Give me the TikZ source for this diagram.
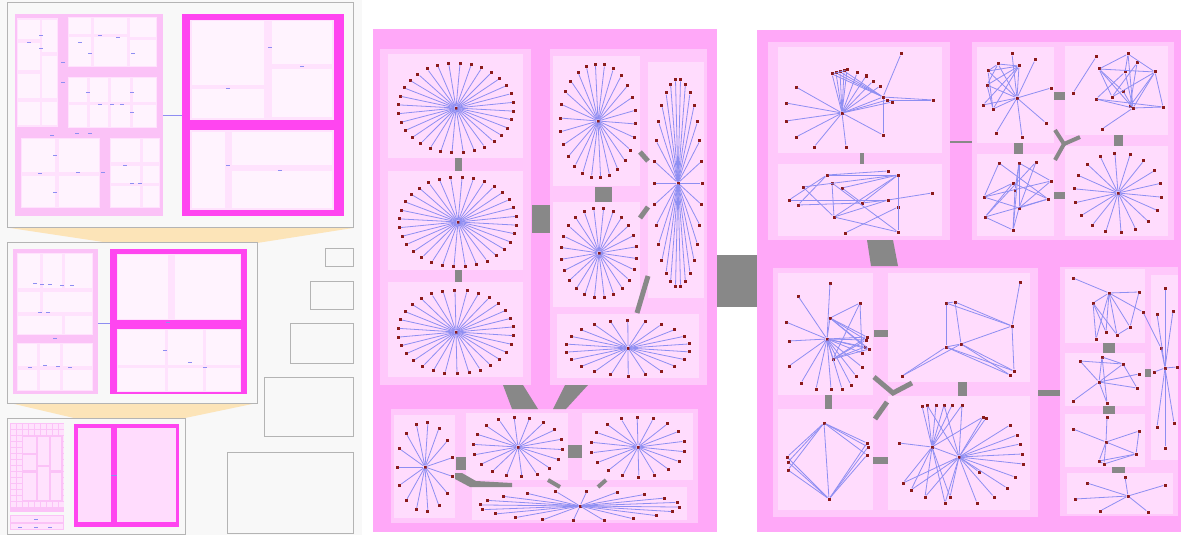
\documentclass[tikz,border=0pt]{standalone}
\usetikzlibrary{calc}

\definecolor{regionpink}{HTML}{FFA8F8}
\definecolor{grouppink}{HTML}{FFC8FB}
\definecolor{boxpink}{HTML}{FFDCFD}
\definecolor{magentabox}{HTML}{FF45F0}
\definecolor{panelpink}{HTML}{FBC2F7}
\definecolor{paneltint}{HTML}{FFE2FD}
\definecolor{cellpink}{HTML}{FFF3FE}
\definecolor{edgeblue}{HTML}{8E8EF2}
\definecolor{vertexred}{HTML}{8B1A1A}
\definecolor{linkgray}{HTML}{888888}
\definecolor{zoomyellow}{HTML}{FCE4B8}
\definecolor{panelgray}{HTML}{F8F8F8}
\definecolor{framegray}{HTML}{B4B4B4}

\begin{document}
\begin{tikzpicture}[
  x=1pt, y=-1pt,
  vtx/.style={rectangle, fill=vertexred, inner sep=0pt, minimum size=3pt},
  netedge/.style={edgeblue, line width=0.8pt},
  bundle/.style={fill=linkgray},
  bundleline/.style={linkgray, line width=5pt},
  regionfill/.style={fill=regionpink},
  groupfill/.style={fill=grouppink},
  leaffill/.style={fill=boxpink},
  magfill/.style={fill=magentabox},
  tintfill/.style={fill=paneltint},
  cellfill/.style={fill=cellpink},
  panelframe/.style={draw=framegray, fill=panelgray, line width=1pt}
]
\useasboundingbox (0,0) rectangle (1183,535);
\fill[white] (0,0) rectangle (1183,535);
\fill[panelgray] (0,0) rectangle (362,535);

% zoom views on the left
\fill[zoomyellow] (10,228) -- (353,228) -- (257,243) -- (110,243) -- cycle;
\fill[zoomyellow] (10,403) -- (257,403) -- (185,418) -- (74,418) -- cycle;
\draw[panelframe] (7,3) rectangle (353,227);
\draw[panelframe] (7,242) rectangle (257,403);
\draw[panelframe] (7,418) rectangle (185,534);
\foreach \xa/\ya/\xb/\yb in {325/248/353/266, 310/281/353/309, 290/323/353/363, 264/377/353/436, 227/452/353/533}
  \draw[panelframe] (\xa,\ya) rectangle (\xb,\yb);

% top view
\fill[panelpink] (15,14) rectangle (163,216);
\foreach \xa/\ya/\xb/\yb in {17/18/58/127, 68/17/157/67, 68/77/157/128, 21/138/100/208, 110/138/160/208}
  \fill[tintfill] (\xa,\ya) rectangle (\xb,\yb);
\foreach \xa/\ya/\xb/\yb in {18/20/40/39, 18/43/40/70, 18/74/40/98, 18/102/40/125, 42/20/57/52, 42/56/57/98, 42/102/57/125,
    69/18/91/34, 69/37/91/66, 94/18/127/34, 94/37/127/66, 130/18/156/37, 130/40/156/66,
    69/78/87/102, 90/78/108/102, 111/78/130/102, 133/78/156/102, 69/105/87/127, 90/105/108/127, 111/105/130/127, 133/105/156/127,
    22/139/55/172, 59/139/99/172, 22/176/55/207, 59/176/99/207,
    111/139/140/162, 143/139/159/162, 111/166/140/183, 143/166/159/183, 111/186/140/207, 143/186/159/207}
  \fill[cellfill] (\xa,\ya) rectangle (\xb,\yb);
\fill[magfill] (182,14) rectangle (344,216);
\fill[tintfill] (190,20) rectangle (334,120);
\fill[tintfill] (190,130) rectangle (334,210);
\foreach \xa/\ya/\xb/\yb in {192/21/264/85, 192/89/264/118, 272/21/332/64, 272/69/332/117, 192/132/225/208, 232/132/332/165, 232/171/332/208}
  \fill[cellfill] (\xa,\ya) rectangle (\xb,\yb);
\draw[netedge] (163,115) -- (182,115);

% middle view
\fill[panelpink] (13,249) rectangle (98,394);
\foreach \xa/\ya/\xb/\yb in {17/253/93/335, 17/343/93/391}
  \fill[tintfill] (\xa,\ya) rectangle (\xb,\yb);
\foreach \xa/\ya/\xb/\yb in {18/254/40/288, 43/254/62/288, 65/254/92/288, 18/292/40/312, 43/292/92/312, 18/316/62/334, 65/316/92/334,
    18/344/37/366, 40/344/60/366, 63/344/92/366, 18/370/37/390, 40/370/60/390, 63/370/92/390}
  \fill[cellfill] (\xa,\ya) rectangle (\xb,\yb);
\fill[magfill] (110,249) rectangle (247,394);
\fill[tintfill] (117,254) rectangle (241,320);
\fill[tintfill] (117,329) rectangle (241,392);
\foreach \xa/\ya/\xb/\yb in {118/255/168/319, 175/255/240/319, 118/330/165/365, 168/330/203/365, 206/330/240/365, 118/368/165/391, 168/368/203/391, 206/368/240/391}
  \fill[cellfill] (\xa,\ya) rectangle (\xb,\yb);
\draw[netedge] (98,323) -- (110,323);

% bottom view
\fill[panelpink] (10,423) rectangle (64,512);
\foreach \xa in {11,17,...,59}
  \foreach \ya in {424,430,...,506}
    \fill[tintfill] (\xa,\ya) rectangle ++(4.5,4.5);
\foreach \xa/\ya/\xb/\yb in {22/436/37/470, 38/436/50/500, 22/472/37/500, 51/436/62/470, 51/472/62/500}
  \fill[panelpink] (\xa-0.5,\ya-0.5) rectangle (\xb+0.5,\yb+0.5);
\foreach \xa/\ya/\xb/\yb in {23/437/36/453, 23/455/36/470, 38/437/49/465, 38/467/49/500, 23/473/36/500, 51/437/61/470, 51/473/61/500}
  \fill[tintfill] (\xa,\ya) rectangle (\xb,\yb);
\fill[panelpink] (10,515) rectangle (64,530);
\fill[tintfill] (11,516) rectangle (63,522);
\fill[tintfill] (11,524) rectangle (63,529);
\fill[magfill] (74,424) rectangle (179,527);
\fill[leaffill] (78,428) rectangle (111,522);
\fill[leaffill] (117,428) rectangle (176,522);
\draw[netedge] (111,475) -- (117,475);

% small edge marks in the views
\foreach \xa/\ya in {29/42, 41/35, 41/48, 63/62, 63/82, 80/42, 100/35, 118/37, 133/53, 90/53, 100/104, 112/104, 122/104, 88/92, 132/92, 132/112,
    40/173, 55/155, 55/192, 78/172, 103/172, 125/165, 132/183, 140/183, 52/135, 77/133, 90/133, 228/88, 302/66, 270/47, 228/165, 280/170,
    35/283, 42/284, 50/284, 62/285, 72/285, 40/312, 48/312, 55/338, 30/367, 45/365, 58/366, 70/367, 168/322, 165/350, 190/362, 205/367,
    36/519, 36/527, 20/527, 50/527}
  \draw[netedge, line width=0.9pt] (\xa-2,\ya) -- (\xa+2,\ya);

% middle region
\fill[regionfill] (373,29) rectangle (717,532);
\fill[groupfill] (380,49) rectangle (531,385);
\fill[groupfill] (550,49) rectangle (707,385);
\fill[groupfill] (391,409) rectangle (698,523);
\foreach \xa/\ya/\xb/\yb in {388/54/523/158, 388/171/523/270, 388/282/523/377, 553/56/640/186, 553/202/640/307, 648/62/704/298,
    557/314/699/378, 394/415/455/518, 466/413/568/480, 582/413/693/480, 472/487/687/520}
  \fill[leaffill] (\xa,\ya) rectangle (\xb,\yb);

% right region
\fill[regionfill] (757,30) rectangle (1181,532);
\foreach \xa/\ya/\xb/\yb in {768/42/950/240, 972/42/1174/240, 773/268/1038/517, 1060/267/1178/516}
  \fill[groupfill] (\xa,\ya) rectangle (\xb,\yb);
\foreach \xa/\ya/\xb/\yb in {778/47/942/153, 778/164/942/236, 977/47/1054/143, 1065/46/1168/135, 977/154/1054/236, 1065/146/1168/236,
    778/273/873/395, 888/273/1030/382, 778/409/873/510, 888/396/1030/510, 1065/269/1145/343, 1065/353/1145/406,
    1065/414/1145/467, 1067/473/1173/514, 1151/275/1178/460}
  \fill[leaffill] (\xa,\ya) rectangle (\xb,\yb);

% bundled links
\foreach \xa/\ya/\xb/\yb in {455/158/462/171, 455/270/462/282, 532/205/550/233, 595/187/612/202, 456/457/466/470, 568/445/582/458,
    717/255/757/307, 860/153/864/164, 1054/92/1065/100, 1014/143/1023/154, 1114/135/1123/146, 1054/192/1065/199,
    874/330/888/337, 825/395/832/409, 958/382/967/396, 873/457/888/464, 1038/390/1060/396, 1103/343/1115/353,
    1103/406/1115/414, 1112/467/1125/473, 1145/369/1151/377}
  \fill[bundle] (\xa,\ya) rectangle (\xb,\yb);
\fill[bundle] (503,385) -- (523,385) -- (538,409) -- (512,409) -- cycle;
\fill[bundle] (565,385) -- (588,385) -- (566,409) -- (553,409) -- cycle;
\fill[bundle] (455,473) -- (462,473) -- (476,481) -- (512,483) -- (512,487) -- (470,487) -- (455,479) -- cycle;
\fill[bundle] (867,240) -- (893,240) -- (898,266) -- (871,266) -- cycle;
\draw[bundleline] (640,152) -- (648,161);
\draw[bundleline] (640,218) -- (648,207);
\draw[bundleline] (637,313) -- (648,276);
\draw[bundleline, line width=4pt] (548,480) -- (560,487);
\draw[bundleline, line width=4pt] (598,487) -- (606,480);
\draw[bundleline, line width=2pt] (950,142) -- (972,142);
\draw[bundleline, line width=4pt] (1055,130) -- (1064,144) -- (1080,137);
\draw[bundleline, line width=4pt] (1064,144) -- (1055,160);
\draw[bundleline] (874,377) -- (893,393) -- (912,383);
\draw[bundleline] (887,402) -- (875,419);

% star graphs
\foreach \s/\cx/\cy/\rx/\ry/\k/\off in {A/456/108/58/45/32/4, B/458/222/59/45/32/4, C/456/332/58/42/30/5, D/598/121/38/57/26/3,
    E/599/253/38/45/24/7, F/678/183/24/104/30/0, G/628/348/62/28/22/8, H/425/467/28/45/15/12, I/518/447/45/30/18/5,
    J/638/447/47/30/18/9, K/580/506/100/15/20/4, S/1118/193/44/40/18/6} {
  \node[vtx] (\s0) at (\cx,\cy) {};
  \foreach \i in {1,...,\k} {
    \node[vtx] (\s\i) at ($(\s0)+({\rx*cos(\i*360/\k+\off)},{\ry*sin(\i*360/\k+\off)})$) {};
    \draw[netedge] (\s0) -- (\s\i);
  }
}

% graphs of the right region
\foreach \v/\xa/\ya in {p0/842/113, p1/832/74, p2/836/73, p3/840/72, p4/844/71, p5/847/70, p6/857/73, p7/866/76, p8/873/81, p9/880/86,
    p10/883/97, p11/887/100, p12/892/102, p13/901/54, p14/933/100, p15/883/135, p16/796/87, p17/786/103, p18/786/121, p19/796/137,
    p20/814/147, p21/846/147,
    q1/789/200, q2/798/205, q3/803/187, q4/827/175, q5/832/183, q6/842/188, q7/834/217, q8/845/233, q9/862/203, q10/888/171,
    q11/898/175, q12/888/200, q13/898/207, q14/898/232, q15/932/193,
    r0/1017/98, r1/1012/54, r2/1035/60, r3/998/64, r4/1019/66, r5/988/71, r6/987/85, r7/983/105, r8/993/109, r9/1051/88,
    r10/1046/123, r11/996/133, r12/1022/137,
    s1/1096/57, s2/1128/54, s3/1137/63, s4/1099/69, s5/1125/72, s6/1155/72, s7/1073/93, s8/1123/91, s9/1112/97, s10/1096/99,
    s11/1130/106, s12/1133/108, s13/1163/107, s14/1102/129,
    t1/999/163, t2/1019/163, t3/1036/162, t4/1013/183, t5/1051/181, t6/984/197, t7/1048/199, t8/1019/208, t9/985/217,
    t10/1013/230, t11/1015/190,
    u0/827/339, u1/830/318, u2/830/283, u3/798/296, u4/786/322, u5/789/341, u6/860/303, u7/867/337, u8/866/340, u9/865/347,
    u10/869/349, u11/862/353, u12/833/359, u13/789/366, u14/801/383, u15/816/389, u16/831/389, u17/842/389, u18/851/385,
    u19/856/376, u20/862/367,
    w1/1020/282, w2/946/303, w3/955/302, w4/1012/326, w5/961/344, w6/946/347, w7/902/376, w8/1010/375, w9/1014/371,
    k1/824/423, k2/867/443, k3/868/447, k4/867/455, k5/787/457, k6/788/462, k7/788/470, k8/829/499,
    m1/932/447, m2/959/457, m3/922/406, m4/927/405, m5/936/405, m6/944/405, m7/952/405, m8/962/405, m9/983/417, m10/986/418,
    m11/1010/425, m12/1017/435, m13/1020/444, m14/1022/454, m15/1023/464, m16/1015/477, m17/1007/488, m18/994/497,
    m19/899/443, m20/903/483, m21/911/490, m22/925/497, m23/945/503, m24/950/497, m25/977/503, m26/979/472,
    e1/1073/278, e2/1109/293, e3/1139/292, e4/1093/303, e5/1143/312, e6/1130/327, e7/1117/335, e8/1096/339, e9/1106/332,
    f1/1080/361, f2/1102/357, f3/1123/364, f4/1139/374, f5/1099/382, f6/1137/388, f7/1073/401, f8/1107/403,
    h1/1107/417, h2/1073/429, h3/1139/431, h4/1106/442, h5/1136/454, h6/1099/461, h7/1104/464,
    i0/1128/496, i1/1125/477, i2/1087/483, i3/1165/485, i4/1075/499, i5/1100/511, i6/1148/512,
    g0/1165/368, g1/1165/288, g2/1173/311, g3/1157/314, g4/1161/348, g5/1154/372, g6/1177/367, g7/1157/427, g8/1174/423, g9/1165/448}
  \node[vtx] (\v) at (\xa,\ya) {};
\foreach \pa/\pb in {p0/p1, p0/p2, p0/p3, p0/p4, p0/p5, p0/p6, p0/p7, p0/p8, p0/p9, p0/p10, p0/p11, p0/p12, p0/p15, p0/p16,
    p0/p17, p0/p18, p0/p19, p0/p20, p0/p21, p1/p10, p2/p10, p3/p10, p4/p10, p1/p5, p10/p13, p10/p14, p10/p15, p11/p14,
    q1/q4, q4/q10, q4/q11, q1/q12, q2/q9, q3/q7, q5/q7, q6/q9, q6/q11, q7/q11, q7/q12, q7/q14, q9/q11, q9/q12, q11/q13,
    q11/q14, q12/q15, q8/q13, q2/q4, q5/q14, q3/q11,
    r0/r1, r0/r2, r0/r3, r0/r4, r0/r5, r0/r6, r0/r7, r0/r8, r0/r9, r0/r10, r0/r11, r0/r12, r3/r5, r3/r4, r5/r4, r5/r8,
    r6/r4, r6/r8, r8/r4, r7/r4, r3/r6,
    s1/s7, s2/s4, s2/s6, s2/s5, s2/s12, s4/s6, s4/s9, s4/s12, s3/s11, s5/s10, s5/s12, s6/s13, s6/s12, s6/s9, s8/s12,
    s8/s4, s10/s12, s10/s13, s12/s13, s12/s14, s9/s3, s11/s6,
    t1/t6, t1/t7, t2/t10, t2/t8, t2/t5, t3/t9, t3/t8, t4/t6, t4/t7, t4/t9, t6/t5, t6/t8, t7/t9, t8/t10, t11/t10, t11/t2,
    t9/t10, t8/t5, t7/t8,
    u0/u1, u0/u2, u0/u3, u0/u4, u0/u5, u0/u7, u0/u8, u0/u9, u0/u10, u0/u11, u0/u12, u0/u13, u0/u14, u0/u15, u0/u16,
    u0/u17, u0/u18, u0/u19, u0/u20, u1/u6, u1/u7, u1/u8, u1/u9, u1/u10, u6/u12, u6/u11, u12/u7, u12/u8, u12/u9, u12/u10,
    w2/w3, w2/w6, w3/w5, w3/w4, w2/w4, w4/w1, w4/w5, w4/w9, w5/w8, w6/w8, w6/w7, w5/w7, w6/w5, w6/w9, w5/w9,
    k1/k2, k1/k3, k1/k4, k1/k5, k1/k6, k1/k8, k5/k8, k6/k8, k7/k8, k2/k8, k3/k8, k4/k8, k1/k7,
    m1/m3, m1/m4, m1/m5, m1/m6, m1/m7, m1/m8, m2/m4, m2/m6, m2/m8, m1/m2, m1/m9, m2/m9, m2/m10, m2/m11, m2/m12, m2/m13,
    m2/m14, m2/m15, m2/m16, m2/m17, m2/m18, m1/m19, m1/m20, m1/m21, m1/m22, m2/m20, m2/m21, m2/m22, m2/m23, m2/m24,
    m2/m25, m2/m26, m1/m24, m1/m23,
    e1/e2, e2/e3, e2/e4, e2/e6, e2/e7, e2/e8, e2/e9, e4/e8, e4/e9, e4/e7, e3/e6, e2/e5, e6/e7, e5/g4,
    f1/f5, f1/f3, f2/f5, f2/f8, f3/f5, f3/f6, f5/f4, f5/f6, f5/f7, f5/f8, f2/f3,
    h1/h4, h2/h4, h3/h4, h3/h5, h4/h5, h4/h6, h4/h7, h5/h6, h5/h7, h6/h7,
    i0/i1, i0/i2, i0/i3, i0/i4, i0/i5, i0/i6,
    g0/g1, g0/g2, g0/g3, g0/g4, g0/g5, g0/g6, g0/g7, g0/g8, g0/g9}
  \draw[netedge] (\pa) -- (\pb);
\end{tikzpicture}
\end{document}
